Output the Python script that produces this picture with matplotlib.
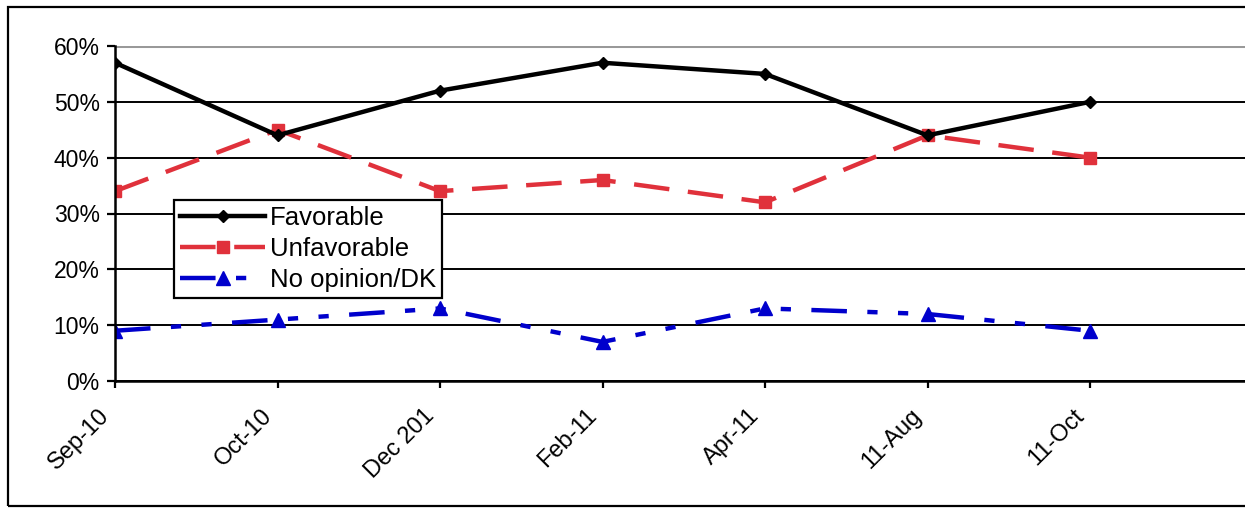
import matplotlib.pyplot as plt
from matplotlib.patches import Rectangle
from matplotlib.transforms import ScaledTranslation

plt.rcParams['font.family'] = ['Liberation Sans', 'DejaVu Sans']

months = ['Sep-10', 'Oct-10', 'Dec 201', 'Feb-11', 'Apr-11', '11-Aug', '11-Oct']
favorable = [57, 44, 52, 57, 55, 44, 50]
unfavorable = [34, 45, 34, 36, 32, 44, 40]
no_opinion = [9, 11, 13, 7, 13, 12, 9]
y_ticks = [0, 10, 20, 30, 40, 50, 60]
y_labels = ['0%', '10%', '20%', '30%', '40%', '50%', '60%']

W, H = 1245, 508
fig = plt.figure(figsize=(W / 100, H / 100), dpi=100)
# plot area runs off the right edge, like the cropped original
ax = fig.add_axes([115 / W, 127 / H, 1137.5 / W, 335 / H])

x = list(range(len(months)))
ax.plot(x, favorable, color='black', lw=3.2, marker='D', ms=6.5,
        label='Favorable', zorder=5)
ax.plot(x, unfavorable, color='#e0313b', lw=3.2, marker='s', ms=9,
        dashes=(8, 4.2), label='Unfavorable', zorder=4)
ax.plot(x, no_opinion, color='#0000cc', lw=3.2, marker='^', ms=9.5,
        dashes=(8, 4.6, 2.3, 4.6, 2.3, 4.6), label='No opinion/DK', zorder=4)

ax.set_xlim(0, 7)
ax.set_ylim(0, 60)
ax.set_yticks(y_ticks)
ax.set_yticklabels(y_labels)
ax.set_xticks(x)
ax.set_xticklabels(months, rotation=45, ha='right', va='top',
                   rotation_mode='anchor')

ax.yaxis.grid(True, color='black', lw=1.4)
ax.get_ygridlines()[-1].set_color('#999999')
ax.get_ygridlines()[-1].set_linewidth(2.2)
ax.set_axisbelow(True)

for s in ['top', 'right']:
    ax.spines[s].set_visible(False)
for s in ['left', 'bottom']:
    ax.spines[s].set_linewidth(1.8)
    ax.spines[s].set_zorder(6)

ax.tick_params(axis='y', direction='out', length=6, width=1.6,
               labelsize=16.5, pad=5)
ax.tick_params(axis='x', direction='out', length=5, width=1.6,
               labelsize=17, pad=12)

shift = ScaledTranslation(-17 / 100, 0, fig.dpi_scale_trans)
for lab in ax.get_xticklabels():
    lab.set_transform(lab.get_transform() + shift)

leg = ax.legend(loc='upper left', bbox_to_anchor=(174 / W, 1 - 200 / H),
                bbox_transform=fig.transFigure, borderaxespad=0,
                fancybox=False, edgecolor='black', framealpha=1,
                fontsize=18.5, handlelength=3.3, handletextpad=0.2,
                labelspacing=0.27, borderpad=0.24, numpoints=1)
leg.get_frame().set_linewidth(1.6)
leg.set_zorder(10)

# outer chart border
fig.patches.append(Rectangle((8 / W, 2 / H), 2, 499 / H, fill=False,
                             lw=1.6, ec='black', transform=fig.transFigure))

fig.savefig('out.png', dpi=100)
